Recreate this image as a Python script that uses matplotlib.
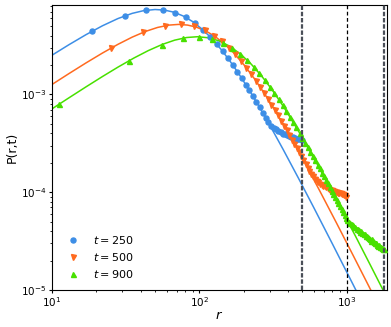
import matplotlib
matplotlib.use("Agg")
import matplotlib.pyplot as plt

# ---------------- data ----------------
labels = ["$t=250$", "$t=500$", "$t=900$"]
front_positions = [500, 1000, 1800]

# simulation points
r_250 = [18.75, 31.25, 43.75, 56.25, 68.75, 81.25, 93.75, 106.25, 118.75, 131.25,
         143.75, 156.25, 168.75, 181.25, 193.75, 206.25, 218.75, 231.25, 243.75, 256.25,
         268.75, 281.25, 293.75, 306.25, 318.75, 331.25, 343.75, 356.25, 368.75, 381.25,
         393.75, 406.25, 418.75, 431.25, 443.75, 456.25, 468.75, 481.25, 493.75]
p_250 = [4.43e-3, 6.36e-3, 7.27e-3, 7.32e-3, 6.85e-3, 6.12e-3, 5.31e-3, 4.54e-3, 3.85e-3, 3.26e-3,
         2.76e-3, 2.34e-3, 1.99e-3, 1.70e-3, 1.46e-3, 1.26e-3, 1.10e-3, 9.56e-4, 8.37e-4, 7.37e-4,
         6.51e-4, 5.80e-4, 5.20e-4, 4.80e-4, 4.58e-4, 4.40e-4, 4.24e-4, 4.10e-4, 3.98e-4, 3.90e-4,
         3.82e-4, 3.74e-4, 3.68e-4, 3.63e-4, 3.58e-4, 3.53e-4, 3.50e-4, 3.47e-4, 3.44e-4]

r_500 = [25.0, 41.67, 58.33, 75.0, 91.67, 108.33, 125.0, 141.67, 158.33, 175.0,
         191.67, 208.33, 225.0, 241.67, 258.33, 275.0, 291.67, 308.33, 325.0, 341.67,
         358.33, 375.0, 391.67, 408.33, 425.0, 441.67, 458.33, 475.0, 491.67, 508.33,
         525.0, 541.67, 558.33, 575.0, 591.67, 608.33, 625.0, 641.67, 658.33, 675.0,
         691.67, 708.33, 725.0, 741.67, 758.33, 775.0, 791.67, 808.33, 825.0, 841.67,
         858.33, 875.0, 891.67, 908.33, 925.0, 941.67, 958.33, 975.0, 991.67]
p_500 = [2.96e-3, 4.32e-3, 5.04e-3, 5.19e-3, 4.96e-3, 4.52e-3, 4.00e-3, 3.48e-3, 2.99e-3, 2.56e-3,
         2.19e-3, 1.87e-3, 1.60e-3, 1.38e-3, 1.19e-3, 1.03e-3, 8.99e-4, 7.86e-4, 6.91e-4, 6.09e-4,
         5.40e-4, 4.80e-4, 4.28e-4, 3.84e-4, 3.45e-4, 3.11e-4, 2.81e-4, 2.55e-4, 2.32e-4, 2.12e-4,
         1.94e-4, 1.79e-4, 1.66e-4, 1.55e-4, 1.45e-4, 1.37e-4, 1.31e-4, 1.26e-4, 1.22e-4, 1.19e-4,
         1.16e-4, 1.15e-4, 1.12e-4, 1.10e-4, 1.09e-4, 1.06e-4, 1.05e-4, 1.03e-4, 1.02e-4, 1.00e-4,
         1.01e-4, 9.9e-5, 9.8e-5, 9.9e-5, 9.6e-5, 9.7e-5, 9.4e-5, 9.3e-5, 9.0e-5]

r_900 = [11.11, 33.33, 55.56, 77.78, 100.0, 122.22, 144.44, 166.67, 188.89, 211.11,
         233.33, 255.56, 277.78, 300.0, 322.22, 344.44, 366.67, 388.89, 411.11, 433.33,
         455.56, 477.78, 500.0, 522.22, 544.44, 566.67, 588.89, 611.11, 633.33, 655.56,
         677.78, 700.0, 722.22, 744.44, 766.67, 788.89, 811.11, 833.33, 855.56, 877.78,
         900.0, 922.22, 944.44, 966.67, 988.89, 1011.11, 1033.33, 1055.56, 1077.78, 1100.0,
         1122.22, 1144.44, 1166.67, 1188.89, 1211.11, 1233.33, 1255.56, 1277.78, 1300.0, 1322.22,
         1344.44, 1366.67, 1388.89, 1411.11, 1433.33, 1455.56, 1477.78, 1500.0, 1522.22, 1544.44,
         1566.67, 1588.89, 1611.11, 1633.33, 1655.56, 1677.78, 1700.0, 1722.22, 1744.44, 1766.67,
         1788.89]
p_900 = [7.90e-4, 2.21e-3, 3.23e-3, 3.77e-3, 3.89e-3, 3.72e-3, 3.39e-3, 3.00e-3, 2.61e-3, 2.24e-3,
         1.92e-3, 1.64e-3, 1.40e-3, 1.20e-3, 1.04e-3, 8.95e-4, 7.76e-4, 6.76e-4, 5.92e-4, 5.20e-4,
         4.59e-4, 4.06e-4, 3.61e-4, 3.22e-4, 2.89e-4, 2.60e-4, 2.34e-4, 2.12e-4, 1.92e-4, 1.75e-4,
         1.59e-4, 1.46e-4, 1.33e-4, 1.23e-4, 1.13e-4, 1.04e-4, 9.62e-5, 8.91e-5, 8.27e-5, 7.68e-5,
         7.15e-5, 6.67e-5, 6.23e-5, 5.82e-5, 5.45e-5, 5.20e-5, 5.00e-5, 4.85e-5, 4.70e-5, 4.60e-5,
         4.45e-5, 4.40e-5, 4.25e-5, 4.20e-5, 4.10e-5, 3.95e-5, 4.00e-5, 3.80e-5, 3.75e-5, 3.70e-5,
         3.55e-5, 3.55e-5, 3.45e-5, 3.40e-5, 3.35e-5, 3.20e-5, 3.30e-5, 3.15e-5, 3.10e-5, 3.05e-5,
         3.00e-5, 3.02e-5, 2.90e-5, 2.85e-5, 2.90e-5, 2.78e-5, 2.75e-5, 2.70e-5, 2.72e-5, 2.60e-5,
         2.65e-5]

# theory curves (solid lines)
rl_250 = [10, 13, 17, 22, 28, 35, 42, 50, 58, 67, 78, 90, 105, 120, 140, 160, 185, 215, 250,
          300, 370, 470, 600, 800, 1100, 1400, 1850]
pl_250 = [2.517e-3, 3.216e-3, 4.080e-3, 5.033e-3, 5.963e-3, 6.739e-3, 7.195e-3, 7.379e-3, 7.280e-3,
          6.934e-3, 6.318e-3, 5.553e-3, 4.616e-3, 3.790e-3, 2.900e-3, 2.229e-3, 1.627e-3, 1.143e-3,
          7.847e-4, 4.863e-4, 2.739e-4, 1.392e-4, 6.872e-5, 2.953e-5, 1.149e-5, 5.600e-6, 2.435e-6]

rl_500 = [10, 13, 17, 22, 28, 35, 43, 52, 62, 72, 83, 95, 110, 127, 147, 170, 200, 235, 275,
          325, 400, 500, 650, 850, 1100, 1400, 1850]
pl_500 = [1.264e-3, 1.629e-3, 2.098e-3, 2.649e-3, 3.250e-3, 3.852e-3, 4.401e-3, 4.837e-3, 5.112e-3,
          5.196e-3, 5.117e-3, 4.886e-3, 4.472e-3, 3.936e-3, 3.314e-3, 2.680e-3, 2.020e-3, 1.463e-3,
          1.032e-3, 6.908e-4, 4.053e-4, 2.215e-4, 1.058e-4, 4.875e-5, 2.288e-5, 1.121e-5, 4.891e-6]

rl_900 = [10, 13, 17, 22, 28, 36, 45, 56, 68, 82, 97, 115, 135, 160, 190, 225, 265, 310, 370,
          450, 550, 700, 900, 1150, 1450, 1850]
pl_900 = [7.120e-4, 9.211e-4, 1.194e-3, 1.524e-3, 1.900e-3, 2.358e-3, 2.805e-3, 3.245e-3, 3.588e-3,
          3.818e-3, 3.889e-3, 3.795e-3, 3.542e-3, 3.119e-3, 2.588e-3, 2.036e-3, 1.536e-3, 1.125e-3,
          7.600e-4, 4.729e-4, 2.810e-4, 1.456e-4, 7.151e-5, 3.519e-5, 1.782e-5, 8.668e-6]

# ---------------- styling ----------------
colors = ["#3d8ee6", "#ff6a1f", "#48e000"]
markers = ["o", "v", "^"]

fig = plt.figure(figsize=(3.91, 3.27), dpi=100)
ax = fig.add_axes([0.133, 0.113, 0.8555, 0.8716])

pts = [(r_250, p_250), (r_500, p_500), (r_900, p_900)]
lines = [(rl_250, pl_250), (rl_500, pl_500), (rl_900, pl_900)]

for (r, p), (rl, pl), c, m, lab in zip(pts, lines, colors, markers, labels):
    ax.plot(rl, pl, "-", color=c, lw=1.1, zorder=2)
    ax.plot(r, p, linestyle="none", marker=m, color=c, ms=3.6, mec=c, label=lab, zorder=3)

# ballistic fronts
ax.axvline(front_positions[0], color="#4a4f58", ls=(0, (2, 0.8)), lw=1.6, zorder=4)
ax.axvline(front_positions[1], color="black", ls=(0, (3, 2)), lw=0.9, zorder=4)
ax.axvline(front_positions[2], color="#4a4f58", ls=(0, (2, 0.8)), lw=1.6, zorder=4)

ax.set_xscale("log")
ax.set_yscale("log")
ax.set_xlim(10, 1860)
ax.set_ylim(1e-5, 8.2e-3)

ax.tick_params(axis="both", which="major", labelsize=7.5, length=2.5, pad=1.5)
ax.tick_params(axis="both", which="minor", length=1.5)
ax.set_xlabel("$r$", fontsize=9.5)
ax.set_ylabel("P(r,t)", fontsize=9)
ax.xaxis.set_label_coords(0.5, -0.065)
ax.yaxis.set_label_coords(-0.10, 0.5)

ax.legend(loc="lower left", frameon=False, fontsize=8, handletextpad=0.8, labelspacing=0.45)

fig.savefig("out.png", dpi=100)
